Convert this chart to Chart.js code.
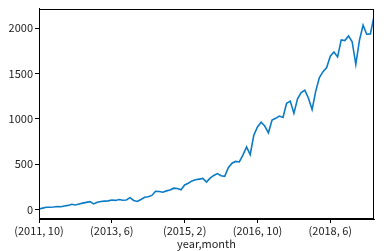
<!DOCTYPE html>
<html>
<head>
<meta charset="utf-8">
<script src="https://cdn.jsdelivr.net/npm/chart.js@4"></script>
<style>
html,body{margin:0;padding:0;background:#fff;}
#wrap{width:384px;height:251px;}
</style>
</head>
<body>
<div id="wrap"><canvas id="c" width="384" height="251"></canvas></div>
<script>
// monthly categories (year, month) from 2011-10 to 2019-06
const categories = [];
for (let y = 2011, m = 10; y < 2019 || (y === 2019 && m <= 6); ) {
  categories.push('(' + y + ', ' + m + ')');
  m++; if (m > 12) { m = 1; y++; }
}
const values = [
  5, 15, 25, 25, 28, 32, 30, 38, 45, 57,
  50, 60, 70, 78, 86, 61, 80, 88, 92, 95,
  105, 100, 110, 102, 105, 130, 100, 88, 110, 135,
  140, 155, 200, 198, 190, 205, 215, 235, 232, 218,
  270, 290, 315, 328, 335, 342, 302, 346, 375, 396,
  372, 365, 460, 510, 530, 524, 600, 690, 605, 820,
  910, 962, 920, 845, 985, 1005, 1030, 1015, 1172, 1195,
  1060, 1220, 1290, 1315, 1227, 1102, 1305, 1455, 1520, 1565,
  1690, 1736, 1682, 1870, 1862, 1914, 1850, 1601, 1865, 2032,
  1932, 1936, 2128
];
const xTickIdx = [0, 20, 40, 60, 80];
const yTicks = [0, 500, 1000, 1500, 2000];
const xTitle = 'year,month';

const FONT = "'Noto Sans CJK JP', 'DejaVu Sans', sans-serif";

const frame = {
  id: 'frame',
  afterDraw(chart) {
    const a = chart.chartArea, ctx = chart.ctx;
    ctx.save();
    ctx.strokeStyle = '#000';
    ctx.lineWidth = 1;
    ctx.strokeRect(Math.round(a.left) + 0.5, Math.round(a.top) + 0.5,
                   Math.round(a.right - a.left) - 1, Math.round(a.bottom - a.top) - 1);
    ctx.restore();
  }
};

new Chart(document.getElementById('c'), {
  type: 'line',
  data: {
    datasets: [{
      data: values.map((v, i) => ({x: i, y: v})),
      borderColor: '#0b7bc6',
      borderWidth: 1.6,
      pointRadius: 0,
      tension: 0,
      fill: false
    }]
  },
  options: {
    responsive: false,
    animation: false,
    layout: {padding: {top: 2, right: 10, left: 0, bottom: 0}},
    plugins: {legend: {display: false}, tooltip: {enabled: false}},
    scales: {
      x: {
        type: 'linear',
        min: 0, max: values.length - 1,
        afterBuildTicks(s) { s.ticks = xTickIdx.map(v => ({value: v})); },
        afterFit(s) { s.height = 32; },
        ticks: {
          autoSkip: false, maxRotation: 0, padding: 1,
          color: '#222', font: {family: FONT, size: 11},
          callback: v => categories[v]
        },
        grid: {drawOnChartArea: false, drawTicks: true, tickLength: 4, color: '#000'},
        border: {display: true, color: '#000'},
        title: {display: true, text: xTitle, color: '#222', font: {family: FONT, size: 11}, padding: {top: 0, bottom: 1}}
      },
      y: {
        min: -105, max: 2215,
        afterBuildTicks(s) { s.ticks = yTicks.map(v => ({value: v})); },
        afterFit(s) { s.width = 39; },
        ticks: {padding: 2, color: '#222', font: {family: FONT, size: 11}, callback: v => String(v)},
        grid: {drawOnChartArea: false, drawTicks: true, tickLength: 4, color: '#000'},
        border: {display: true, color: '#000'}
      }
    }
  },
  plugins: [frame]
});
</script>
</body>
</html>
